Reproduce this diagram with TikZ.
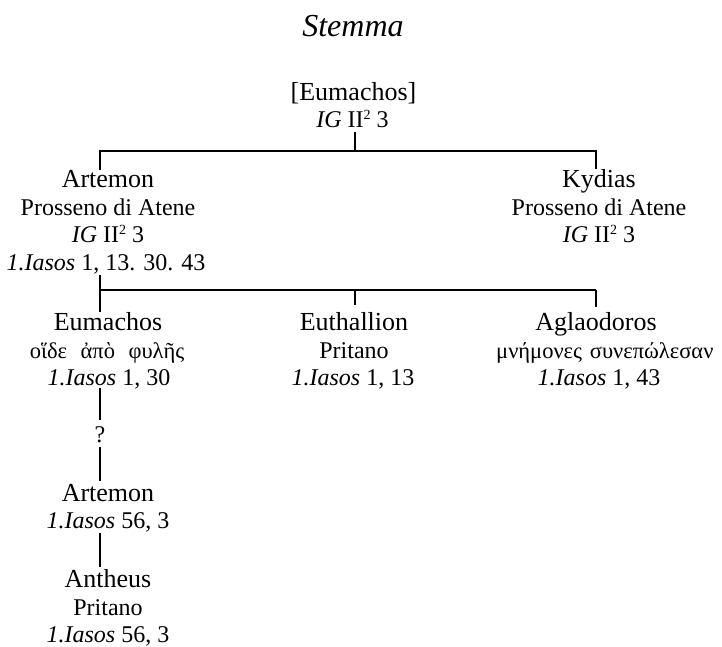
\documentclass[tikz,border=0pt]{standalone}
\usepackage{fontspec}
\setmainfont{Liberation Serif}
\newcommand{\supII}{II\raisebox{0.3em}{\fontsize{14}{16}\selectfont 2}}
\begin{document}
\begin{tikzpicture}[x=1pt,y=1pt,
  nm/.style={anchor=base,inner sep=0pt,font=\fontsize{26}{30}\selectfont},
  sb/.style={anchor=base,inner sep=0pt,font=\fontsize{24}{28}\selectfont},
  gk/.style={anchor=base,inner sep=0pt,font=\fontsize{22.5}{26}\selectfont},
  conn/.style={line width=1.2pt}]
\useasboundingbox (0,0) rectangle (722,-646);
\node[anchor=base,inner sep=0pt,font=\fontsize{32}{36}\selectfont\itshape] (title) at (353,-36) {Stemma};
% top
\node[nm] (top1) at (353.5,-100) {[Eumachos]};
\node[sb] (top2) at (352.5,-127) {\textit{IG} \supII{} 3};
% Artemon
\node[nm] (art1) at (108,-187) {Artemon};
\node[sb] (art2) at (108,-215) {Prosseno di Atene};
\node[sb] (art3) at (108,-242) {\textit{IG} \supII{} 3};
\node[sb] (art4) at (106,-270) {\textit{1.Iasos} 1, 13. 30. 43};
% Kydias
\node[nm] (kyd1) at (599,-187) {Kydias};
\node[sb] (kyd2) at (599,-215) {Prosseno di Atene};
\node[sb] (kyd3) at (599,-242) {\textit{IG} \supII{} 3};
% Eumachos
\node[nm] (eum1) at (108,-330) {Eumachos};
\node[gk] (eum2) at (107,-358) {οἵδε\hspace{0.35em} ἀπὸ\hspace{0.35em} φυλῆς};
\node[sb] (eum3) at (109,-385) {\textit{1.Iasos} 1, 30};
% Euthallion
\node[nm] (eut1) at (354,-330) {Euthallion};
\node[sb] (eut2) at (354,-358) {Pritano};
\node[sb] (eut3) at (353,-385) {\textit{1.Iasos} 1, 13};
% Aglaodoros
\node[nm] (agl1) at (596,-330) {Aglaodoros};
\node[gk,anchor=base west] (agl2) at (496,-358) {μνήμονες\hspace{0.1em} συνεπώλεσαν};
\node[sb] (agl3) at (599,-385) {\textit{1.Iasos} 1, 43};
% ? and descendants
\node[sb] (q) at (100,-442) {?};
\node[nm] (art5) at (108,-501) {Artemon};
\node[sb] (art6) at (108,-528) {\textit{1.Iasos} 56, 3};
\node[nm] (ant1) at (108,-587) {Antheus};
\node[sb] (ant2) at (108,-615) {Pritano};
\node[sb] (ant3) at (108,-642) {\textit{1.Iasos} 56, 3};
% junctions
\coordinate (c1) at (355,-151);
\coordinate (hL1) at (100,-151);
\coordinate (hR1) at (596,-151);
\coordinate (hL2) at (100,-290);
\coordinate (hM2) at (355,-290);
\coordinate (hR2) at (596,-290);
% connectors
\draw[conn] (top2.base -| c1) ++(0,-5) -- (c1);
\draw[conn] (art1.north -| hL1) -- (hL1) -- (hR1) -- (kyd1.north -| hR1);
\draw[conn] (art4.base -| hL2) ++(0,-5) -- (eum1.north -| hL2);
\draw[conn] (hL2) -- (hR2);
\draw[conn] (hM2) -- ([yshift=7pt]eut1.north -| hM2);
\draw[conn] (hR2) -- ([yshift=5pt]agl1.north -| hR2);
\draw[conn] ([yshift=-3pt]eum3.base -| hL2) -- ([yshift=6pt]q.north);
\draw[conn] ([yshift=-5pt]q.base) -- ([yshift=3pt]art5.north -| q.base);
\draw[conn] ([yshift=-5pt]art6.base -| q.base) -- ([yshift=2pt]ant1.north -| q.base);
\end{tikzpicture}
\end{document}
